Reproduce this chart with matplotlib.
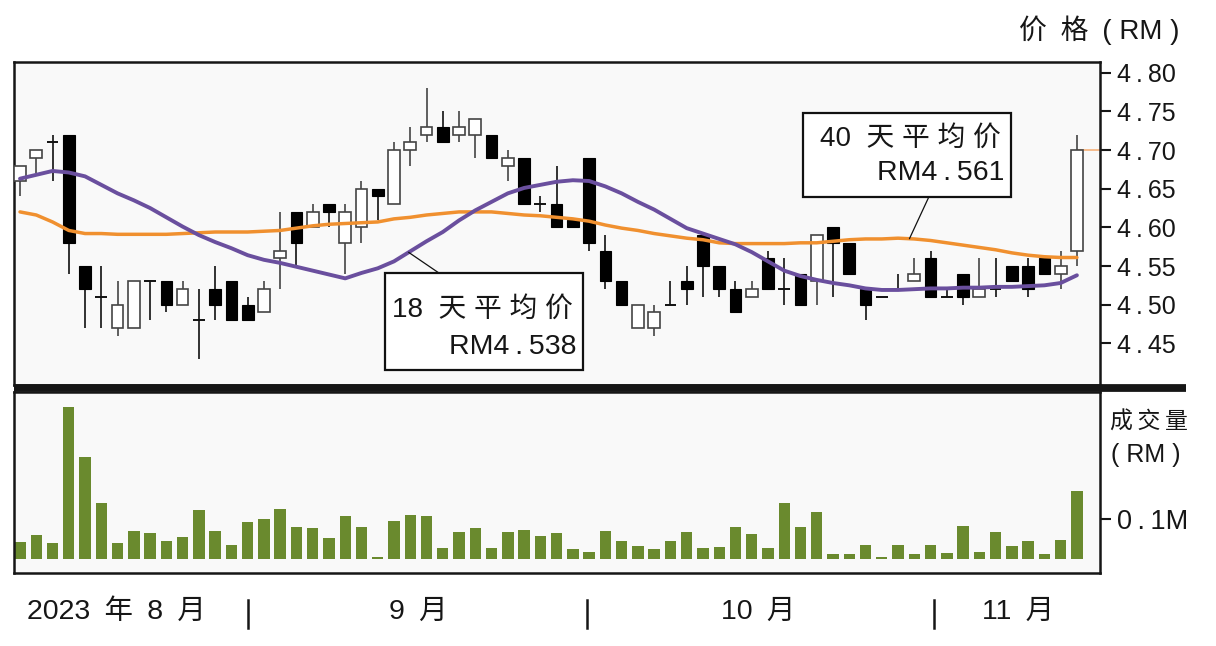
import numpy as np
import matplotlib
matplotlib.use("Agg")
import matplotlib.pyplot as plt
from matplotlib.lines import Line2D
from matplotlib.patches import Rectangle
import matplotlib.transforms as mtransforms

plt.rcParams['font.family'] = ['Liberation Sans', 'Noto Sans CJK SC', 'DejaVu Sans']

# ---- daily prices (RM) ----
opens = [4.66, 4.69, 4.71, 4.72, 4.55, 4.51, 4.47, 4.47, 4.53, 4.53,
         4.50, 4.48, 4.52, 4.53, 4.50, 4.49, 4.56, 4.62, 4.60, 4.63,
         4.58, 4.60, 4.65, 4.63, 4.70, 4.72, 4.73, 4.72, 4.72, 4.72,
         4.68, 4.69, 4.63, 4.63, 4.61, 4.69, 4.57, 4.53, 4.47, 4.47,
         4.50, 4.53, 4.59, 4.55, 4.52, 4.51, 4.56, 4.52, 4.54, 4.53,
         4.60, 4.58, 4.52, 4.51, 4.52, 4.53, 4.56, 4.51, 4.54, 4.51,
         4.52, 4.55, 4.55, 4.56, 4.54, 4.57]
highs = [4.68, 4.70, 4.72, 4.72, 4.55, 4.55, 4.53, 4.53, 4.53, 4.53,
         4.53, 4.52, 4.55, 4.53, 4.51, 4.53, 4.62, 4.62, 4.63, 4.63,
         4.63, 4.66, 4.65, 4.71, 4.73, 4.78, 4.75, 4.75, 4.74, 4.72,
         4.70, 4.69, 4.64, 4.68, 4.61, 4.69, 4.59, 4.53, 4.50, 4.50,
         4.53, 4.55, 4.59, 4.55, 4.53, 4.53, 4.57, 4.56, 4.54, 4.59,
         4.60, 4.58, 4.52, 4.51, 4.54, 4.56, 4.57, 4.52, 4.54, 4.56,
         4.56, 4.55, 4.56, 4.56, 4.57, 4.72]
lows = [4.64, 4.67, 4.66, 4.54, 4.47, 4.47, 4.46, 4.47, 4.48, 4.49,
        4.50, 4.43, 4.48, 4.48, 4.48, 4.49, 4.52, 4.55, 4.60, 4.60,
        4.54, 4.58, 4.61, 4.63, 4.68, 4.71, 4.71, 4.71, 4.69, 4.69,
        4.66, 4.63, 4.62, 4.60, 4.60, 4.57, 4.52, 4.50, 4.47, 4.46,
        4.50, 4.50, 4.51, 4.51, 4.49, 4.51, 4.52, 4.50, 4.50, 4.50,
        4.51, 4.54, 4.48, 4.51, 4.52, 4.53, 4.51, 4.51, 4.50, 4.51,
        4.51, 4.53, 4.51, 4.54, 4.52, 4.55]
closes = [4.68, 4.70, 4.71, 4.58, 4.52, 4.51, 4.50, 4.53, 4.53, 4.50,
          4.52, 4.48, 4.50, 4.48, 4.48, 4.52, 4.57, 4.58, 4.62, 4.62,
          4.62, 4.65, 4.64, 4.70, 4.71, 4.73, 4.71, 4.73, 4.74, 4.69,
          4.69, 4.63, 4.63, 4.60, 4.60, 4.58, 4.53, 4.50, 4.50, 4.49,
          4.50, 4.52, 4.55, 4.52, 4.49, 4.52, 4.52, 4.52, 4.50, 4.59,
          4.58, 4.54, 4.50, 4.51, 4.52, 4.54, 4.51, 4.51, 4.51, 4.52,
          4.52, 4.53, 4.52, 4.54, 4.55, 4.70]

# ---- moving averages (RM) ----
ma18 = [4.663, 4.668, 4.673, 4.671, 4.666, 4.655, 4.644, 4.635, 4.625, 4.613,
        4.601, 4.590, 4.581, 4.573, 4.564, 4.558, 4.554, 4.549, 4.544, 4.539,
        4.534, 4.541, 4.547, 4.556, 4.569, 4.582, 4.594, 4.609, 4.622, 4.633,
        4.644, 4.651, 4.655, 4.659, 4.661, 4.660, 4.653, 4.644, 4.633, 4.623,
        4.611, 4.599, 4.592, 4.585, 4.578, 4.568, 4.556, 4.544, 4.537, 4.532,
        4.528, 4.525, 4.521, 4.519, 4.519, 4.520, 4.521, 4.521, 4.522, 4.522,
        4.523, 4.523, 4.524, 4.525, 4.528, 4.538]
ma40 = [4.620, 4.616, 4.607, 4.596, 4.592, 4.592, 4.591, 4.591, 4.591, 4.591,
        4.592, 4.593, 4.594, 4.594, 4.594, 4.595, 4.596, 4.599, 4.602, 4.604,
        4.605, 4.606, 4.607, 4.611, 4.613, 4.616, 4.618, 4.620, 4.620, 4.620,
        4.618, 4.616, 4.615, 4.613, 4.611, 4.608, 4.603, 4.599, 4.596, 4.592,
        4.589, 4.586, 4.584, 4.580, 4.579, 4.579, 4.579, 4.579, 4.580, 4.580,
        4.582, 4.584, 4.585, 4.585, 4.586, 4.585, 4.583, 4.580, 4.577, 4.574,
        4.571, 4.567, 4.564, 4.562, 4.561, 4.561]

# ---- turnover (RM million) ----
volumes = [0.043, 0.060, 0.039, 0.379, 0.254, 0.139, 0.039, 0.070, 0.066, 0.046,
           0.056, 0.1225, 0.070, 0.035, 0.092, 0.100, 0.125, 0.081, 0.078, 0.052,
           0.1075, 0.081, 0.006, 0.094, 0.110, 0.1075, 0.027, 0.068, 0.078, 0.027,
           0.068, 0.0725, 0.0575, 0.066, 0.024, 0.017, 0.070, 0.044, 0.032, 0.024,
           0.044, 0.068, 0.0275, 0.029, 0.080, 0.0625, 0.0275, 0.141, 0.080, 0.1175,
           0.0125, 0.0125, 0.035, 0.004, 0.035, 0.0125, 0.035, 0.016, 0.083, 0.0175,
           0.068, 0.0325, 0.044, 0.0125, 0.047, 0.170]

price_ticks = [4.45, 4.50, 4.55, 4.60, 4.65, 4.70, 4.75, 4.80]
volume_ticks = [0.1]
month_labels = ["2023\u2002年\u20028\u2002月", "9\u2002月", "10\u2002月", "11\u2002月"]
month_centers = [5.9, 24.5, 45.4, 61.4]
month_breaks = [14.0, 34.9, 56.2]

W, H = 1216, 646
PURPLE = '#6a4f9e'
ORANGE = '#f0902f'
GREEN = '#6a8a2e'
PANEL = '#f9f9f9'
INK = '#161616'
THS = '\u2009'


def fmt_price(v):
    s = f"{v:.2f}"
    return s.replace('.', THS + '.' + THS)


fig = plt.figure(figsize=(W / 100, H / 100), dpi=100)
fig.patch.set_facecolor('white')

ax_p = fig.add_axes([14 / W, 1 - 385 / H, 1086 / W, 323 / H])
ax_v = fig.add_axes([14 / W, 1 - 573 / H, 1086 / W, 181 / H])

x = np.arange(len(opens))
o = np.array(opens)
c = np.array(closes)
hi = np.array(highs)
lo = np.array(lows)

xlim = (-0.37, 66.42)
for ax in (ax_p, ax_v):
    ax.set_facecolor(PANEL)
    ax.set_xlim(*xlim)
    ax.set_xticks([])
    for sp in ax.spines.values():
        sp.set_linewidth(1.8)
        sp.set_color(INK)
    ax.yaxis.tick_right()
    ax.tick_params(axis='y', direction='out', length=8, width=1.5,
                   colors=INK, pad=4)

# ---- candlesticks ----
body_w = 0.72
up = c > o
down = c < o
flat = c == o

ax_p.vlines(x[down | flat], lo[down | flat], hi[down | flat],
            color='#111111', lw=1.2, zorder=2)
ax_p.vlines(x[up], lo[up], hi[up], color='#444444', lw=1.2, zorder=2)
ax_p.bar(x[down], (o - c)[down], bottom=c[down], width=body_w,
         color='black', edgecolor='black', lw=0.8, zorder=3)
ax_p.bar(x[up], (c - o)[up], bottom=o[up], width=body_w,
         color='white', edgecolor='#444444', lw=1.2, zorder=3)
ax_p.hlines(c[flat], x[flat] - body_w / 2, x[flat] + body_w / 2,
            color='#111111', lw=1.4, zorder=3)

# last close marker
ax_p.plot([x[-1], xlim[1]], [c[-1], c[-1]], color='#f6b27a', lw=1.2, zorder=1)

# ---- moving averages ----
ax_p.plot(x, ma40, color=ORANGE, lw=2.5, zorder=4, solid_capstyle='round')
ax_p.plot(x, ma18, color=PURPLE, lw=2.8, zorder=5, solid_capstyle='round')

ax_p.set_ylim(4.396, 4.814)
ax_p.set_yticks(price_ticks)
ax_p.set_yticklabels([fmt_price(v) for v in price_ticks], fontsize=18,
                     color=INK)

# ---- MA call-out boxes ----
def callout(box, line1, line2, anchor, target_x, series, y1, y2):
    x0, y0, x1, y1b = box
    ax_p.add_patch(Rectangle((x0, y0), x1 - x0, y1b - y0, transform=ax_p.transAxes,
                             facecolor='white', edgecolor='#111111', lw=1.6,
                             zorder=10))
    ax_p.text(x1 - 0.0095, y1, line1, transform=ax_p.transAxes, ha='right',
              va='center', fontsize=20, color=INK, zorder=11)
    ax_p.text(x1 - 0.006, y2, line2, transform=ax_p.transAxes, ha='right',
              va='center', fontsize=20.5, color=INK, zorder=11)
    ty = float(np.interp(target_x, x, series))
    ax_p.annotate('', xy=(target_x, ty), xycoords='data',
                  xytext=anchor, textcoords='axes fraction',
                  arrowprops=dict(arrowstyle='-', color='#111111', lw=0.9,
                                  shrinkA=0, shrinkB=0),
                  zorder=9)


callout((0.3416, 0.0455, 0.5236, 0.3467), "18  天 平 均 价",
        "RM" + f"{ma18[-1]:.3f}".replace('.', THS + '.' + THS),
        (0.3913, 0.3467), 23.9, ma18, 0.2322, 0.1186)
callout((0.7265, 0.5830, 0.9181, 0.8430), "40  天 平 均 价",
        "RM" + f"{ma40[-1]:.3f}".replace('.', THS + '.' + THS),
        (0.8425, 0.5830), 54.7, ma40, 0.7638, 0.6573)

# ---- volume panel ----
ax_v.bar(x, volumes, width=0.7, color=GREEN, edgecolor='none', zorder=2)
ax_v.set_ylim(-0.035, 0.4175)
ax_v.set_yticks(volume_ticks)
ax_v.set_yticklabels(["0" + THS + "." + THS + "1M"], fontsize=19.5, color=INK)

# ---- month axis ----
blend = mtransforms.blended_transform_factory(ax_v.transData, ax_v.transAxes)
for xc, lab in zip(month_centers, month_labels):
    ax_v.text(xc, -0.215, lab, transform=blend, ha='center', va='center',
              fontsize=20.5, color=INK, clip_on=False)
for xb in month_breaks:
    ax_v.add_line(Line2D([xb, xb], [-0.149, -0.304], transform=blend,
                         color=INK, lw=1.8, clip_on=False))

# ---- separator bar between panels ----
fig.add_artist(Line2D([14 / W, 1186 / W], [1 - 388.5 / H, 1 - 388.5 / H],
                      color=INK, lw=5.6, solid_capstyle='butt'))

# ---- axis titles ----
fig.text(1099 / W, 1 - 30 / H, "价\u2002格\u2002( RM )", ha='center',
         va='center', fontsize=20, color=INK)
fig.text(1149 / W, 1 - 422 / H, "成\u2009交\u2009量", ha='center', va='center',
         fontsize=16.5, color=INK)
fig.text(1146 / W, 1 - 455 / H, "( RM )", ha='center', va='center',
         fontsize=18, color=INK)

fig.savefig('out.png', dpi=100, facecolor='white')
